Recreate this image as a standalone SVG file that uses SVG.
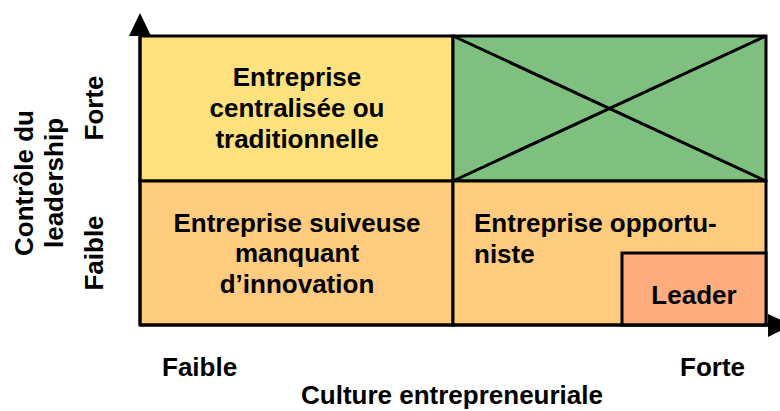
<svg xmlns="http://www.w3.org/2000/svg" width="780" height="411" viewBox="0 0 780 411">
<style>
.t{font-family:"Liberation Sans",Arial,sans-serif;font-weight:bold;font-size:26px;fill:#000}
.m{text-anchor:middle}
.b{stroke:#000;stroke-width:3}
</style>
<rect width="780" height="411" fill="#fff"/>
<g id="cell-top-left">
<rect class="b" x="140" y="36" width="313" height="145" fill="#FFE17D"/>
<text class="t m" x="297" y="86">Entreprise</text>
<text class="t m" x="297" y="117">centralisée ou</text>
<text class="t m" x="297" y="148">traditionnelle</text>
</g>
<g id="cell-top-right">
<rect class="b" x="453" y="36" width="313" height="145" fill="#7FBF7F"/>
<line class="b" x1="453" y1="36" x2="766" y2="181"/>
<line class="b" x1="453" y1="181" x2="766" y2="36"/>
</g>
<g id="cell-bottom-left">
<rect class="b" x="140" y="181" width="313" height="144" fill="#FFCC7F"/>
<text class="t m" x="297" y="232">Entreprise suiveuse</text>
<text class="t m" x="297" y="262">manquant</text>
<text class="t m" x="297" y="293">d’innovation</text>
</g>
<g id="cell-bottom-right">
<rect class="b" x="453" y="181" width="313" height="144" fill="#FFCC7F"/>
<text class="t" x="474" y="232">Entreprise opportu-</text>
<text class="t" x="474" y="263">niste</text>
</g>
<g id="leader">
<rect class="b" x="622" y="253" width="144" height="72" fill="#FFAD7F"/>
<text class="t m" x="694" y="304">Leader</text>
</g>
<g id="connectors">
<line class="b" x1="140" y1="325" x2="140" y2="30"/>
<polygon points="140,13 129,36 151,36" fill="#000"/>
<line class="b" x1="140" y1="325" x2="772" y2="325"/>
<polygon points="768,314 768,337 792,325" fill="#000"/>
</g>
<g id="axis-labels">
<text class="t m" transform="translate(103,108) rotate(-90)">Forte</text>
<text class="t m" transform="translate(103,253) rotate(-90)">Faible</text>
<text class="t m" transform="translate(33,183) rotate(-90)">Contrôle du</text>
<text class="t m" transform="translate(63,183) rotate(-90)">leadership</text>
<text class="t" x="162" y="376">Faible</text>
<text class="t" x="680" y="376">Forte</text>
<text class="t m" x="452" y="404">Culture entrepreneuriale</text>
</g>
</svg>
